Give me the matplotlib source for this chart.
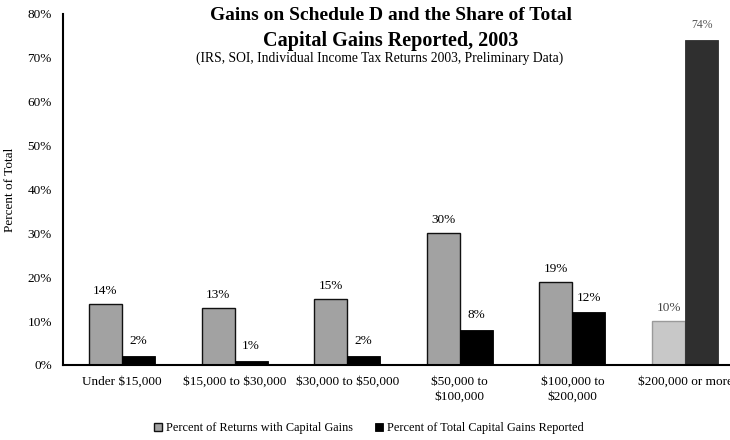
import numpy as np
import matplotlib.pyplot as plt

plt.rcParams['font.family'] = ['Liberation Serif', 'DejaVu Serif']
plt.rcParams['text.parse_math'] = False

# income brackets and the two series (percent of total)
brackets = ["Under $15,000", "$15,000 to $30,000", "$30,000 to $50,000",
            "$50,000 to\n$100,000", "$100,000 to\n$200,000", "$200,000 or more"]
returns_pct = [14, 13, 15, 30, 19, 10]
gains_pct = [2, 1, 2, 8, 12, 74]

x = np.arange(len(brackets))
w = 0.293

fig = plt.figure(figsize=(7.3, 4.4), dpi=100)
ax = fig.add_axes([0.0863, 0.1705, 0.933, 0.798])

# the top bracket is printed in lighter tones
gray_cols = ["#a2a2a2"] * 5 + ["#c8c8c8"]
gray_edges = ["#111111"] * 5 + ["#9a9a9a"]
black_cols = ["#000000"] * 5 + ["#2f2f2f"]
b1 = ax.bar(x - w / 2, returns_pct, w, color=gray_cols, edgecolor=gray_edges, linewidth=1.0,
            label="Percent of Returns with Capital Gains")
b2 = ax.bar(x + w / 2, gains_pct, w, color=black_cols, edgecolor=black_cols, linewidth=0.6,
            label="Percent of Total Capital Gains Reported")

for rect, v in zip(b1, returns_pct):
    ax.text(rect.get_x() + rect.get_width() / 2, v + 1.6, f"{v}%", ha="center", va="bottom",
            fontsize=9.5, color="#444444" if v == 10 else "black")
for rect, v in zip(b2, gains_pct):
    ax.text(rect.get_x() + rect.get_width() / 2, v + 2.0, f"{v}%", ha="center", va="bottom",
            fontsize=9.5 if v < 50 else 8.5, color="#555555" if v > 50 else "black")

ax.set_xlim(-0.524, 5.524)
ax.set_ylim(0, 80)
ax.set_yticks(np.arange(0, 81, 10))
ax.set_yticklabels([f"{t}%" for t in range(0, 81, 10)], fontsize=9.5)
ax.set_xticks(x)
ax.set_xticklabels(brackets, fontsize=9.5, linespacing=1.3)
ax.tick_params(axis="both", length=0, pad=8)
for s in ["top", "right"]:
    ax.spines[s].set_visible(False)
ax.spines["left"].set_linewidth(1.5)
ax.spines["bottom"].set_linewidth(1.5)
ax.set_ylabel("Percent of Total", fontsize=9.5, labelpad=8)

fig.text(0.535, 0.955, "Gains on Schedule D and the Share of Total", ha="center",
         va="baseline", fontsize=14, fontweight="bold")
fig.text(0.535, 0.895, "Capital Gains Reported, 2003", ha="center",
         va="baseline", fontsize=14.5, fontweight="bold")
fig.text(0.52, 0.859, "(IRS, SOI, Individual Income Tax Returns 2003, Preliminary Data)",
         ha="center", va="baseline", fontsize=9.8)

fig.legend(handles=[b1, b2], loc="center", bbox_to_anchor=(0.505, 0.027), ncol=2,
           frameon=False, fontsize=8.8, handlelength=0.7, handleheight=0.7,
           handletextpad=0.3, columnspacing=1.8, borderpad=0)

fig.savefig("out.png", dpi=100)
